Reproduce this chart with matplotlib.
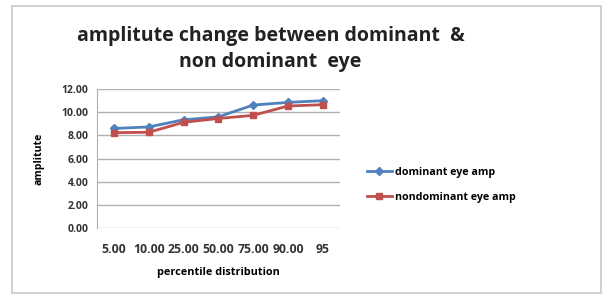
import matplotlib.pyplot as plt
from matplotlib.patches import Rectangle

# data
categories = ["5.00", "10.00", "25.00", "50.00", "75.00", "90.00", "95"]
dominant = [8.60, 8.73, 9.35, 9.60, 10.62, 10.85, 11.00]
nondominant = [8.24, 8.27, 9.13, 9.46, 9.73, 10.54, 10.65]
y_ticks = [0, 2, 4, 6, 8, 10, 12]
y_tick_labels = ["%.2f" % v for v in y_ticks]

plt.rcParams['font.family'] = ['Open Sans', 'DejaVu Sans']

fig = plt.figure(figsize=(6.04, 3.0), dpi=100)
fig.patches.append(Rectangle((0.02, 0.025), 0.975, 0.955, transform=fig.transFigure,
                             fill=False, edgecolor="#c8c8c8", linewidth=1.2))

ax = fig.add_axes([0.16, 0.24, 0.403, 0.463])
x = list(range(len(categories)))
ax.plot(x, dominant, color="#4F81BD", marker="D", markersize=4, linewidth=2,
        label="dominant eye amp")
ax.plot(x, nondominant, color="#C0504D", marker="s", markersize=5, linewidth=2,
        label="nondominant eye amp")

ax.set_xlim(-0.5, len(categories) - 0.5)
ax.set_ylim(0, 12)
ax.set_yticks(y_ticks)
ax.set_yticklabels(y_tick_labels)
ax.set_xticks(x)
ax.set_xticklabels(categories)
ax.grid(axis="y", color="#b0b0b0", linewidth=1)
ax.set_axisbelow(True)
for side in ["top", "right", "bottom"]:
    ax.spines[side].set_visible(False)
ax.spines["left"].set_color("#b0b0b0")
ax.tick_params(length=0, colors="#333333", pad=6)
ax.tick_params(axis="y", labelsize=7.5)
ax.tick_params(axis="x", labelsize=8.8, pad=11)
for lab in ax.get_xticklabels() + ax.get_yticklabels():
    lab.set_fontweight("bold")

ax.set_xlabel("percentile distribution", fontsize=7.8, fontweight="bold", labelpad=8)
ax.set_ylabel("amplitute", fontsize=7.6, fontweight="bold", labelpad=12)

fig.suptitle("amplitute change between dominant  &\nnon dominant  eye",
             x=0.448, y=0.915, fontsize=14, fontweight="bold", color="#222222",
             linespacing=1.4)

fig.legend(loc="center left", bbox_to_anchor=(0.592, 0.383), frameon=False,
           prop={"weight": "bold", "size": 7.7}, handlelength=2.3,
           handletextpad=0.3, labelspacing=1.3)

plt.savefig("out.png", dpi=100)
plt.close()
